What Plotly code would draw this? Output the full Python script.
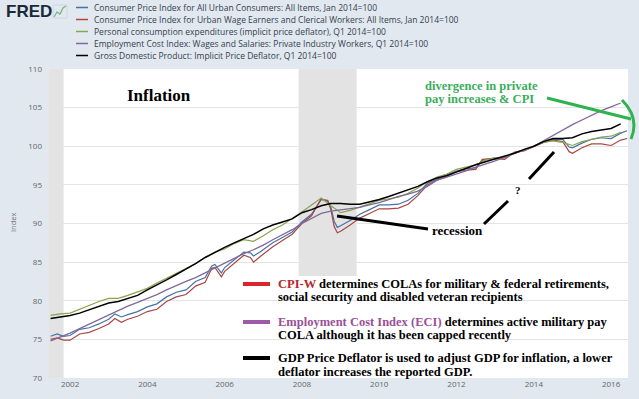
import pandas as pd
import plotly.graph_objects as go

# ---------------- data ----------------
cpi_dates = ["2001-07-01", "2001-09-01", "2001-11-01", "2002-01-01", "2002-04-01", "2002-07-01",
             "2002-10-01", "2003-01-01", "2003-03-01", "2003-05-01", "2003-07-01", "2003-10-01",
             "2004-01-01", "2004-04-01", "2004-07-01", "2004-10-01", "2005-01-01", "2005-04-01",
             "2005-07-01", "2005-09-01", "2005-10-01", "2005-12-01", "2006-01-01", "2006-04-01",
             "2006-07-01", "2006-09-01", "2006-10-01", "2006-12-01", "2007-04-01", "2007-07-01",
             "2007-10-01", "2008-01-01", "2008-04-01", "2008-07-01", "2008-09-01", "2008-10-01",
             "2008-11-01", "2008-12-01", "2009-01-01", "2009-04-01", "2009-07-01", "2009-10-01",
             "2010-01-01", "2010-04-01", "2010-07-01", "2010-10-01", "2011-01-01", "2011-04-01",
             "2011-07-01", "2011-10-01", "2012-01-01", "2012-04-01", "2012-07-01", "2012-09-01",
             "2013-01-01", "2013-04-01", "2013-07-01", "2013-10-01", "2014-01-01", "2014-04-01",
             "2014-07-01", "2014-10-01", "2014-12-01", "2015-01-01", "2015-04-01", "2015-07-01",
             "2015-10-01", "2016-01-01", "2016-04-01", "2016-06-01"]
cpi_u = [75.4, 75.7, 75.4, 75.5, 76.3, 76.5, 77.0, 77.6, 78.3, 77.9, 78.2, 78.6,
         79.2, 79.6, 80.5, 81.1, 81.4, 82.5, 83.0, 84.5, 84.7, 83.6, 84.3, 85.3,
         86.3, 86.2, 85.8, 86.3, 87.5, 88.2, 88.9, 90.2, 91.2, 93.1, 93.0, 92.1,
         90.3, 89.5, 89.7, 90.4, 91.2, 91.8, 92.4, 92.4, 92.5, 93.0, 93.9, 95.2,
         95.8, 96.3, 96.8, 97.1, 97.2, 98.2, 98.5, 98.5, 99.2, 99.5, 100.0, 100.5,
         100.9, 100.9, 99.9, 99.8, 100.4, 100.9, 101.1, 101.0, 101.7, 102.0]
cpi_w = [75.0, 75.2, 74.9, 74.9, 75.7, 75.9, 76.4, 77.0, 77.7, 77.2, 77.6, 78.0,
         78.6, 78.9, 79.9, 80.5, 80.8, 81.9, 82.4, 84.2, 84.3, 83.1, 83.8, 84.8,
         85.9, 85.6, 85.0, 85.7, 87.0, 87.8, 88.6, 90.0, 91.0, 93.2, 92.9, 91.8,
         89.6, 88.8, 89.0, 89.8, 90.7, 91.3, 91.9, 91.9, 92.0, 92.5, 93.6, 95.0,
         95.6, 96.1, 96.7, 96.9, 97.0, 98.3, 98.4, 98.3, 99.2, 99.4, 100.0, 100.5,
         100.8, 100.6, 99.3, 99.1, 99.8, 100.3, 100.3, 100.1, 100.8, 101.0]

quarter_dates = pd.date_range("2001-07-01", periods=60, freq="QS")
pce = [78.1, 78.3,
       78.4, 78.9, 79.4, 79.9, 80.3, 80.3, 80.7, 81.1, 81.6, 82.3, 82.9, 83.6,
       84.2, 84.8, 85.6, 86.3, 86.7, 87.4, 87.9, 87.7, 88.4, 89.2, 89.8, 90.6,
       91.5, 92.4, 93.3, 92.3, 91.4, 91.7, 92.1, 92.6, 93.0, 93.2, 93.4, 93.9,
       94.6, 95.4, 96.0, 96.4, 97.0, 97.3, 97.6, 98.2, 98.5, 98.6, 99.1, 99.5,
       100.0, 100.5, 100.7, 100.5, 100.1, 100.6, 100.9, 101.2,
       101.3, 101.8]
eci = [74.8, 75.3,
       75.8, 76.4, 77.0, 77.6, 78.2, 78.7, 79.3, 79.8, 80.3, 80.8, 81.4, 81.9,
       82.5, 83.0, 83.6, 84.3, 84.9, 85.5, 86.1, 86.6, 87.2, 87.9, 88.5, 89.2,
       90.0, 90.7, 91.3, 91.6, 91.8, 92.0, 92.1, 92.4, 92.7, 93.1, 93.5, 93.8,
       94.2, 94.8, 95.6, 96.0, 96.4, 96.8, 97.3, 97.7, 98.1, 98.6, 99.0, 99.5,
       100.0, 100.7, 101.4, 102.1, 102.8, 103.4, 104.0, 104.6,
       105.1, 105.6]
gdp_defl = [77.7, 77.9,
            78.1, 78.4, 78.8, 79.3, 79.7, 79.9, 80.3, 80.7, 81.4, 82.0, 82.7, 83.4,
            84.1, 84.8, 85.6, 86.3, 86.9, 87.5, 88.0, 88.6, 89.3, 89.8, 90.2, 90.6,
            91.4, 91.8, 92.3, 92.6, 92.6, 92.5, 92.5, 92.8, 93.1, 93.5, 93.9, 94.3,
            94.8, 95.4, 95.9, 96.2, 96.7, 97.1, 97.6, 98.0, 98.4, 98.7, 99.1, 99.6,
            100.0, 100.6, 101.0, 101.0, 101.1, 101.6, 101.9, 102.1,
            102.3, 102.9]

recession_starts = ["2001-03-01", "2007-12-01"]
recession_ends = ["2001-11-01", "2009-06-01"]

x_tick_vals = ["2002-01-01", "2004-01-01", "2006-01-01", "2008-01-01",
               "2010-01-01", "2012-01-01", "2014-01-01", "2016-01-01"]
x_tick_text = ["2002", "2004", "2006", "2008", "2010", "2012", "2014", "2016"]
y_tick_vals = [70, 75, 80, 85, 90, 95, 100, 105, 110]

legend_names = [
    "Consumer Price Index for All Urban Consumers: All Items, Jan 2014=100",
    "Consumer Price Index for Urban Wage Earners and Clerical Workers: All Items, Jan 2014=100",
    "Personal consumption expenditures (implicit price deflator), Q1 2014=100",
    "Employment Cost Index: Wages and Salaries: Private Industry Workers, Q1 2014=100",
    "Gross Domestic Product: Implicit Price Deflator, Q1 2014=100",
]
series_colors = ["#4572a7", "#aa4643", "#89a54e", "#80699b", "#000000"]
series_widths = [1.2, 1.2, 1.2, 1.3, 1.5]

# ---------------- layout helpers (pixel -> paper) ----------------
W, H = 639, 399
L, R, T, B = 49, 628, 69, 378


def px(x):
    return (x - L) / (R - L)


def py(y):
    return (B - y) / (B - T)


fig = go.Figure()
series = [
    (cpi_dates, cpi_u), (cpi_dates, cpi_w), (quarter_dates, pce),
    (quarter_dates, eci), (quarter_dates, gdp_defl),
]
for (xs, ys), name, col, lw in zip(series, legend_names, series_colors, series_widths):
    fig.add_trace(go.Scatter(x=xs, y=ys, mode="lines", name=name,
                             line=dict(color=col, width=lw), showlegend=False,
                             hoverinfo="skip"))

shapes = []
for s, e in zip(recession_starts, recession_ends):
    shapes.append(dict(type="rect", xref="x", yref="paper", x0=s, x1=e, y0=0, y1=1,
                       fillcolor="#e3e3e3", line=dict(width=0), layer="below"))

# white boxes behind pasted text
for (x0, y0, x1, y1) in [(240, 276, 612, 378), (420, 76, 563, 112),
                         (505, 178, 602, 195), (358, 218, 517, 240)]:
    shapes.append(dict(type="rect", xref="paper", yref="paper",
                       x0=px(x0), x1=px(x1), y0=py(y1), y1=py(y0),
                       fillcolor="white", line=dict(width=0), layer="between"))


def seg(x0, y0, x1, y1, color, width):
    return dict(type="line", xref="paper", yref="paper", x0=px(x0), y0=py(y0),
                x1=px(x1), y1=py(y1), line=dict(color=color, width=width), layer="above")


green_line = "#2fb34f"
shapes += [
    seg(337, 216, 428, 229, "black", 3),
    seg(484, 224, 508, 201, "black", 3),
    seg(529, 179, 554, 152, "black", 3),
    seg(547, 98, 631, 119, green_line, 3),
    dict(type="path", xref="paper", yref="paper",
         path=f"M {px(622)},{py(100)} Q {px(640)},{py(118)} {px(631)},{py(139)}",
         line=dict(color=green_line, width=3), layer="above"),
    seg(243, 284, 270, 284, "#d8262b", 4),
    seg(243, 322, 270, 322, "#9e5aa8", 4),
    seg(243, 358, 270, 358, "black", 4),
]

# top legend swatches
for i, col in enumerate(series_colors):
    yy = 7.5 + 12 * i
    shapes.append(seg(76, yy, 88, yy, col, 1.5))

# FRED icon
shapes.append(dict(type="path", xref="paper", yref="paper",
                   path=(f"M {px(54)},{py(17)} L {px(57)},{py(12)} L {px(60)},{py(14)} "
                         f"L {px(63)},{py(8)} L {px(66)},{py(6)}"),
                   line=dict(color="#7cb07a", width=1.2), layer="above"))
shapes.append(dict(type="rect", xref="paper", yref="paper", x0=px(53), x1=px(67),
                   y0=py(18), y1=py(5), line=dict(color="#c9d6e2", width=0.8),
                   fillcolor="rgba(0,0,0,0)"))

annotations = []


def note(x, y, text, size, color="black", family="Liberation Serif", xanchor="left", **kw):
    annotations.append(dict(xref="paper", yref="paper", x=px(x), y=py(y), text=text,
                            showarrow=False, xanchor=xanchor, yanchor="middle",
                            font=dict(family=family, size=size, color=color), **kw))


note(125, 95, "<b>Inflation</b>", 17)
green_txt = "#3aad5b"
note(423, 85.5, "<b>divergence in private</b>", 12.5, green_txt)
note(423, 98.5, "<b>pay increases &amp; CPI</b>", 12.5, green_txt)
note(518, 190, "<b>?</b>", 11, xanchor="center")
note(430, 230, "<b>recession</b>", 13)
note(276, 284, "<b><span style='color:#b8262c'>CPI-W</span> determines COLAs for military &amp; federal retirements,</b>", 12.5)
note(276, 297, "<b>social security and disabled veteran recipients</b>", 12.5)
note(276, 322, "<b><span style='color:#9a4f97'>Employment Cost Index (ECI)</span> determines active military pay</b>", 12.5)
note(276, 335, "<b>COLA although it has been capped recently</b>", 12.5)
note(276, 358, "<b>GDP Price Deflator is used to adjust GDP for inflation, a lower</b>", 12.5)
note(276, 372, "<b>deflator increases the reported GDP.</b>", 12.5)

# top legend text
for i, name in enumerate(legend_names):
    note(92, 7.5 + 12 * i, name, 8.5, "#34414e", family="Open Sans")

# FRED logo text
note(4, 11, "<b>FRED</b>", 17, "#17293a", family="Liberation Sans")

# y-axis title
annotations.append(dict(xref="paper", yref="paper", x=px(13), y=py(223), text="Index",
                        showarrow=False, textangle=-90, xanchor="center", yanchor="middle",
                        font=dict(family="Open Sans", size=7.5, color="#777777")))

fig.update_layout(
    width=W, height=H,
    margin=dict(l=L, r=W - R, t=T, b=H - B),
    paper_bgcolor="#e1e8ef",
    plot_bgcolor="white",
    shapes=shapes,
    annotations=annotations,
    showlegend=False,
    xaxis=dict(range=["2001-06-16", "2016-06-09"], tickmode="array",
               tickvals=x_tick_vals, ticktext=x_tick_text, showgrid=False,
               zeroline=False, showline=False, ticks="",
               tickfont=dict(family="Open Sans", size=8, color="#666666")),
    yaxis=dict(range=[70, 110], tickmode="array", tickvals=y_tick_vals,
               showgrid=True, gridcolor="#e4e4e4", gridwidth=1, zeroline=False,
               showline=False, ticks="", ticklabelstandoff=6,
               tickfont=dict(family="Open Sans", size=8, color="#666666")),
)

fig.write_html("out.html", config={"displayModeBar": False},
               post_script="document.body.style.margin='0';document.body.style.background='#e1e8ef';")
